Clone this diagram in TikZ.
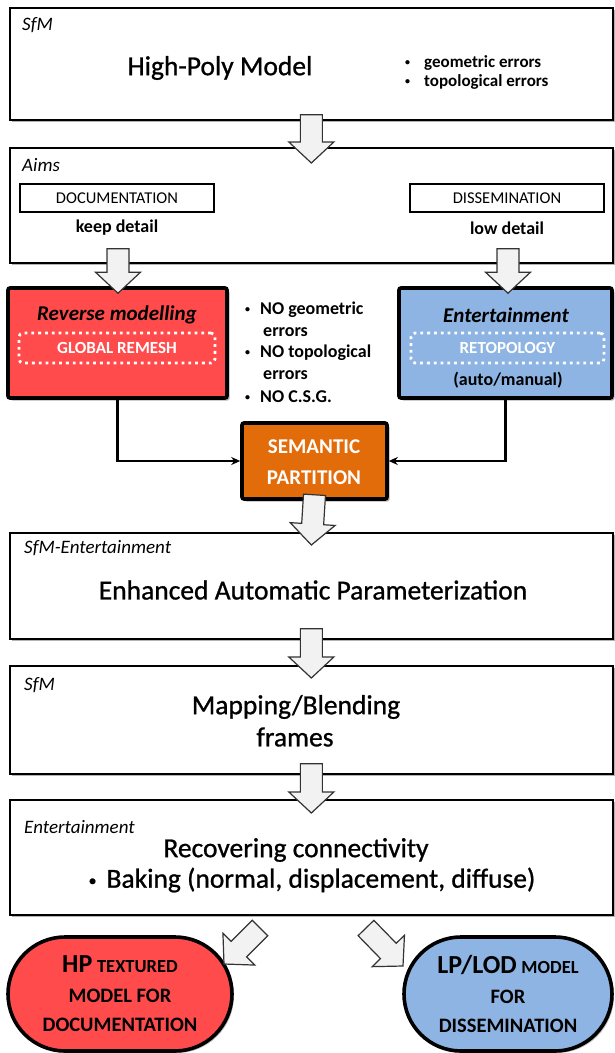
\documentclass[tikz,border=0pt]{standalone}
\usepackage{fontspec}
\setmainfont{Carlito}
\newfontfamily\heavyfont{Carlito}[FakeBold=0.9]
\usetikzlibrary{calc,shadows,arrows.meta,shapes.misc}

\definecolor{docred}{HTML}{FF4B4B}
\definecolor{dissblue}{HTML}{8DB4E2}
\definecolor{semorange}{HTML}{E36C0A}
\definecolor{arrowfill}{HTML}{F2F2F2}

% hollow block arrow from tail #1 to tip #2
\newcommand\blockarrow[2]{%
  \coordinate (ba-base) at ($(#2)!21pt!(#1)$);
  \draw[blockarrow]
    ($(#1)!11pt!90:(#2)$) -- ($(ba-base)!11pt!90:(#2)$)
    -- ($(ba-base)!22.5pt!90:(#2)$) -- (#2)
    -- ($(ba-base)!22.5pt!-90:(#2)$) -- ($(ba-base)!11pt!-90:(#2)$)
    -- ($(#1)!11pt!-90:(#2)$) -- cycle;}

\newcommand\fs[2]{\fontsize{#1}{#2}\selectfont}
% small list bullet
\newcommand\dotitem{\raisebox{0.12em}{\fontsize{10pt}{10pt}\selectfont\textbullet}}

\tikzset{
  panel/.style={draw, line width=1.7pt, fill=white, anchor=north west, inner sep=0pt,
    drop shadow={shadow xshift=2.5pt, shadow yshift=-2.5pt, fill=black!50, opacity=.6}},
  colbox/.style={draw, line width=3.6pt, rounded corners=2pt, inner sep=0pt,
    drop shadow={shadow xshift=2.5pt, shadow yshift=-2.5pt, fill=black!50, opacity=.6}},
  aimbox/.style={draw, line width=1.6pt, fill=white, inner sep=0pt,
    minimum width=194pt, minimum height=28pt, font=\fs{16.5}{19}},
  dotbox/.style={draw=white, line width=2.8pt, dash pattern=on 2.8pt off 4pt,
    rounded corners=4pt, inner sep=0pt, minimum height=30pt,
    text=white, font=\fs{17}{20}\bfseries},
  oval/.style={rounded rectangle, draw, line width=3.6pt, inner sep=0pt,
    minimum height=114pt, align=center, font=\fs{20.5}{29.5}\bfseries,
    drop shadow={shadow xshift=2pt, shadow yshift=-2pt, fill=black!50, opacity=.5}},
  tag/.style={anchor=west, inner sep=0pt, font=\fs{19}{22}\itshape},
  title/.style={inner sep=0pt, font=\heavyfont\fs{27.5}{32}},
  note/.style={anchor=west, inner sep=0pt, font=\fs{17}{19}\bfseries},
  midnote/.style={anchor=west, inner sep=0pt, font=\fs{18}{21}\bfseries},
  sub/.style={inner sep=0pt, font=\fs{18}{21}\bfseries},
  boxhead/.style={inner sep=0pt, font=\fs{21}{24}\bfseries\itshape},
  blockarrow/.style={draw=black!80, line width=1.2pt, fill=arrowfill, line join=miter},
  conn/.style={line width=2.2pt, -{Stealth[length=9pt,width=8pt]}},
}

\begin{document}
\begin{tikzpicture}[x=1pt, y=-1pt]
\useasboundingbox (0,0) rectangle (614,1053);

% --- stage panels
\node[panel, minimum width=603pt, minimum height=112pt] (p1) at (9,7) {};
\node[panel, minimum width=603pt, minimum height=115pt] (p2) at (9,147) {};
\node[panel, minimum width=603pt, minimum height=106pt] (p4) at (9,532) {};
\node[panel, minimum width=603pt, minimum height=108pt] (p5) at (9,665) {};
\node[panel, minimum width=603pt, minimum height=115pt] (p6) at (9,799) {};

% --- panel 1
\node[tag] (t1) at (22,25) {SfM};
\node[title] (hpm) at (220,68) {High-Poly Model};
\node[note] (e1) at (405,63) {\dotitem\hspace{14pt}geometric errors};
\node[note] (e2) at (405,82) {\dotitem\hspace{14pt}topological errors};

% --- panel 2
\node[tag] (t2) at (22,165) {Aims};
\node[aimbox] (doc) at (117,198) {DOCUMENTATION};
\node[sub] (keep) at (117,228) {keep detail};
\node[aimbox] (diss) at (507,198) {DISSEMINATION};
\node[sub] (low) at (507,228) {low detail};

% --- coloured work boxes
\node[colbox, fill=docred, minimum width=219pt, minimum height=110pt] (rev) at (117.5,343) {};
\node[boxhead] (revt) at (117,315) {Reverse modelling};
\node[dotbox, minimum width=196pt] (remesh) at (117,348) {GLOBAL REMESH};

\node[colbox, fill=dissblue, minimum width=213pt, minimum height=110pt] (ent) at (505.5,343) {};
\node[boxhead] (entt) at (506,315) {Entertainment};
\node[dotbox, minimum width=193pt] (retopo) at (507.5,348) {RETOPOLOGY};
\node[sub] (auto) at (508,380) {(auto/manual)};

\node[midnote] (n1) at (245,310) {\dotitem\hspace{10pt}NO geometric};
\node[midnote] (n2) at (263,332) {errors};
\node[midnote] (n3) at (245,353) {\dotitem\hspace{10pt}NO topological};
\node[midnote] (n4) at (263,375) {errors};
\node[midnote] (n5) at (245,397) {\dotitem\hspace{10pt}NO C.S.G.};

\node[colbox, fill=semorange, minimum width=145pt, minimum height=76pt] (sem) at (314.5,461) {};
\node[inner sep=0pt, text=white, font=\fs{21}{24}\bfseries] (sem1) at (314,447) {SEMANTIC};
\node[inner sep=0pt, text=white, font=\fs{21}{24}\bfseries] (sem2) at (314,478) {PARTITION};

\draw[conn] (rev.south) |- (sem.west);
\draw[conn] (ent.south) |- (sem.east);

% --- panel 4
\node[tag] (t4) at (24,548) {SfM-Entertainment};
\node[title] (eap) at (313,590) {Enhanced Automatic Parameterization};

% --- panel 5
\node[tag] (t5) at (24,685) {SfM};
\node[title] (map1) at (296,707) {Mapping/Blending};
\node[title] (map2) at (295,737) {frames};

% --- panel 6
\node[tag] (t6) at (24,827) {Entertainment};
\node[title] (rec) at (296,850) {Recovering connectivity};
\node[title] (bak) at (312,880) {{\fs{16}{16}\raisebox{0.12em}{\textbullet}}\hspace{10pt}Baking (normal, displacement, diffuse)};

% --- final products
\node[oval, fill=docred, minimum width=224pt] (hp) at (120,994)
  {{\fs{26}{29.5}HP} {\fs{18.5}{29.5}TEXTURED}\\MODEL FOR\\DOCUMENTATION};
\node[oval, fill=dissblue, minimum width=208pt] (lp) at (508,994)
  {{\fs{26}{29.5}LP/LOD} {\fs{18.5}{29.5}MODEL}\\FOR\\DISSEMINATION};

% --- block arrows between stages
\coordinate (a1s) at ($(p1.south)+(0,-6)$);
\coordinate (a1e) at ($(p2.north)+(0,16)$);
\coordinate (a2s) at ($(p2.south west)+(109,-15)$);
\coordinate (a2e) at ($(rev.north)+(0.5,7)$);
\coordinate (a3s) at ($(p2.south west)+(499,-15)$);
\coordinate (a3e) at ($(ent.north)+(2.5,7)$);
\coordinate (a4s) at ($(sem.south)+(0,-6)$);
\coordinate (a4e) at ($(p4.north)+(0,13)$);
\coordinate (a5s) at ($(p4.south)+(0,-11)$);
\coordinate (a5e) at ($(p5.north)+(0,13)$);
\coordinate (a6s) at ($(p5.south)+(0,-11)$);
\coordinate (a6e) at ($(p6.north)+(0,14)$);
\coordinate (a7s) at (260,928);
\coordinate (a7e) at (224,964);
\coordinate (a8s) at (366,928);
\coordinate (a8e) at (403,966);

\blockarrow{a1s}{a1e}
\blockarrow{a2s}{a2e}
\blockarrow{a3s}{a3e}
\blockarrow{a4s}{a4e}
\blockarrow{a5s}{a5e}
\blockarrow{a6s}{a6e}
\blockarrow{a7s}{a7e}
\blockarrow{a8s}{a8e}
\end{tikzpicture}
\end{document}
